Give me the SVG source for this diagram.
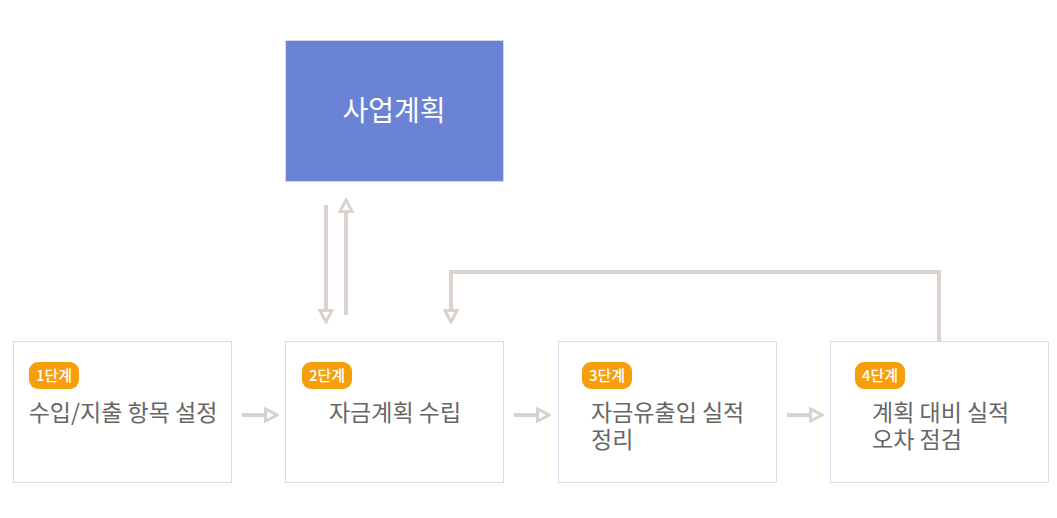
<svg xmlns="http://www.w3.org/2000/svg" width="1057" height="518" viewBox="0 0 1057 518">
<style>
.box{fill:#ffffff;stroke:#d6dcea;stroke-width:1}
.main{fill:#6b83d4;stroke:#d0d8ee;stroke-width:1}
.badge{fill:#f79e0b}
.bt{font-family:"Noto Sans CJK KR","Noto Sans",sans-serif;font-size:15px;font-weight:500;fill:#ffffff;text-anchor:middle}
.t{font-family:"Noto Sans CJK KR","Noto Sans",sans-serif;font-size:23px;fill:#666666}
.mt{font-family:"Noto Sans CJK KR","Noto Sans",sans-serif;font-size:28px;fill:#ffffff;text-anchor:middle}
.c{fill:none;stroke:#dcd2cd;stroke-width:4}
</style>
<defs>
<marker id="ah" markerUnits="userSpaceOnUse" markerWidth="16" markerHeight="16" viewBox="0 0 16 16" refX="14" refY="8" orient="auto">
<path d="M2.5,2 L14,8 L2.5,14 Z" fill="#ffffff" stroke="#dcd2cd" stroke-width="3" stroke-linejoin="miter"/>
</marker>
</defs>
<rect width="1057" height="518" fill="#ffffff"/>
<g id="connectors">
<path class="c" d="M326,205 L326,322" marker-end="url(#ah)"/>
<path class="c" d="M346,315 L346,200" marker-end="url(#ah)"/>
<path class="c" d="M939,341 L939,272 L451,272 L451,322" marker-end="url(#ah)"/>
<path class="c" d="M242,415 L277,415" marker-end="url(#ah)"/>
<path class="c" d="M514,415 L549,415" marker-end="url(#ah)"/>
<path class="c" d="M787,415 L822,415" marker-end="url(#ah)"/>
</g>
<g id="plan">
<rect class="main" x="285.5" y="40.5" width="218" height="141"/>
<text class="mt" x="394" y="121">사업계획</text>
</g>
<g id="step1">
<rect class="box" x="13.5" y="341.5" width="218" height="141"/>
<rect class="badge" x="29" y="362" width="50" height="27" rx="9"/>
<text class="bt" x="54" y="381">1단계</text>
<text class="t" x="123" y="421" text-anchor="middle">수입/지출 항목 설정</text>
</g>
<g id="step2">
<rect class="box" x="285.5" y="341.5" width="218" height="141"/>
<rect class="badge" x="302" y="362" width="50" height="27" rx="9"/>
<text class="bt" x="327" y="381">2단계</text>
<text class="t" x="395" y="421" text-anchor="middle">자금계획 수립</text>
</g>
<g id="step3">
<rect class="box" x="558.5" y="341.5" width="218" height="141"/>
<rect class="badge" x="582" y="362" width="50" height="27" rx="9"/>
<text class="bt" x="607" y="381">3단계</text>
<text class="t" x="591" y="421">자금유출입 실적</text>
<text class="t" x="591" y="448">정리</text>
</g>
<g id="step4">
<rect class="box" x="830.5" y="341.5" width="218" height="141"/>
<rect class="badge" x="855" y="362" width="50" height="27" rx="9"/>
<text class="bt" x="880" y="381">4단계</text>
<text class="t" x="872" y="421">계획 대비 실적</text>
<text class="t" x="872" y="448">오차 점검</text>
</g>
</svg>
